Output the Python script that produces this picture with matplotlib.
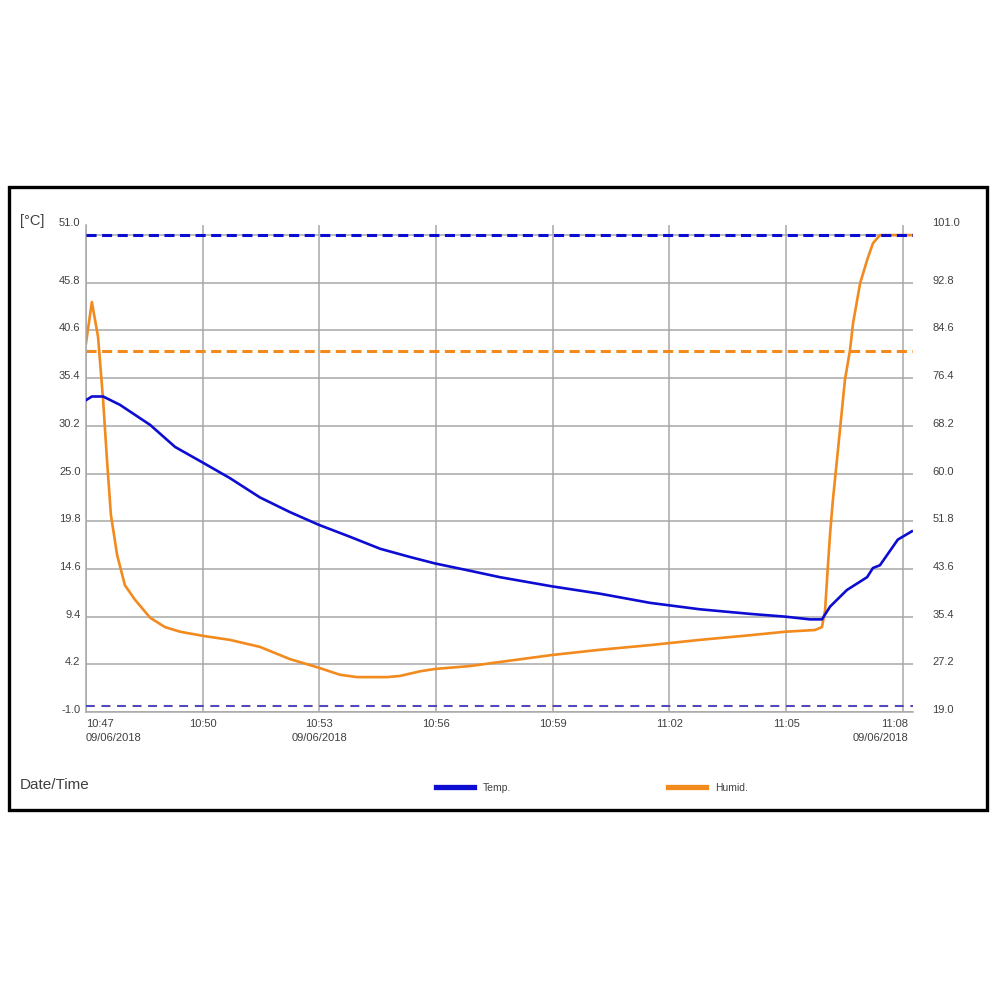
import matplotlib
matplotlib.use("Agg")
import matplotlib.pyplot as plt
from matplotlib.transforms import ScaledTranslation
from matplotlib.patches import Rectangle
from matplotlib.lines import Line2D

# ---- data (minutes after 10:47 on 09/06/2018) ----
temp_minutes = [0, 0.15, 0.44, 0.87, 1.65, 2.29, 3.0, 3.70, 4.47, 5.24, 5.99, 6.79,
                7.56, 8.33, 8.97, 9.87, 10.64, 11.98, 13.21, 14.5, 15.78, 17.07,
                17.97, 18.61, 18.92, 19.13, 19.56, 20.08, 20.23, 20.41, 20.87, 21.23]
temp_values = [33.0, 33.4, 33.4, 32.5, 30.3, 27.9, 26.2, 24.5, 22.4, 20.8, 19.4, 18.1,
               16.8, 15.9, 15.2, 14.4, 13.7, 12.7, 11.9, 10.9, 10.2, 9.7,
               9.4, 9.1, 9.1, 10.5, 12.3, 13.7, 14.7, 15.0, 17.8, 18.7]

humid_minutes = [0, 0.15, 0.31, 0.44, 0.54, 0.64, 0.80, 1.00, 1.26, 1.65, 2.03, 2.42,
                 3.0, 3.70, 4.47, 5.24, 5.99, 6.53, 6.97, 7.74, 8.07, 8.59, 8.97,
                 9.87, 10.64, 11.98, 13.21, 14.5, 15.78, 17.07, 17.97, 18.74, 18.92,
                 19.0, 19.07, 19.13, 19.2, 19.33, 19.51, 19.64, 19.72, 19.9, 20.08,
                 20.23, 20.41, 21.26]
humid_values = [82.4, 89.5, 83.5, 72.6, 62.3, 52.9, 46.0, 40.8, 38.3, 35.2, 33.6, 32.8,
                32.1, 31.4, 30.2, 28.1, 26.6, 25.4, 25.0, 25.0, 25.2, 26.0, 26.4,
                26.9, 27.6, 28.8, 29.7, 30.5, 31.4, 32.2, 32.8, 33.1, 33.6,
                36.5, 43.9, 49.8, 55.4, 64.0, 76.1, 81.2, 85.9, 92.7, 96.7,
                99.6, 101.0, 101.0]

temp_alarm_high = 51.0
temp_alarm_low = -0.3
humid_alarm_high = 81.0
humid_alarm_low = 20.0

temp_ticks = [-1.0, 4.2, 9.4, 14.6, 19.8, 25.0, 30.2, 35.4, 40.6, 45.8, 51.0]
humid_ticks = [19.0, 27.2, 35.4, 43.6, 51.8, 60.0, 68.2, 76.4, 84.6, 92.8, 101.0]
x_ticks = [0, 3, 6, 9, 12, 15, 18, 21]
x_labels = ["10:47\n09/06/2018", "10:50", "10:53\n09/06/2018", "10:56", "10:59",
            "11:02", "11:05", "11:08\n09/06/2018"]

BLUE = "#0c0cd2"
ORANGE = "#f28a1e"
GRID = "#a8a8a8"
TXT = "#404040"
FONT = "Liberation Sans"

plt.rcParams['font.family'] = [FONT, 'DejaVu Sans']

W = H = 1001
fig = plt.figure(figsize=(W / 100, H / 100), dpi=100)
fig.patch.set_facecolor("white")

def fx(px):
    return px / W

def fy(py):
    return 1 - py / H

left, right, top, bottom = 86, 913, 225, 712
ax = fig.add_axes([fx(left), fy(bottom), fx(right) - fx(left), fy(top) - fy(bottom)])
ax2 = ax.twinx()
# temperature axis drawn above humidity axis; grid lives on the humidity axis
ax.set_zorder(ax2.get_zorder() + 1)
ax.patch.set_visible(False)
ax2.patch.set_visible(True)
ax2.patch.set_facecolor("white")

ax.set_xlim(0, 21.26)
ax.set_ylim(-1.0, 52.1)
ax2.set_ylim(19.0, 102.74)

ax.set_yticks(temp_ticks)
ax.set_xticks(x_ticks)
ax2.set_yticks(humid_ticks)
ax2.xaxis.set_visible(True)
ax2.tick_params(axis="x", labelbottom=False, labeltop=False, bottom=False, top=False)
ax2.grid(True, axis="both", color=GRID, linewidth=1.1)
ax2.set_axisbelow(True)
for s in ["top", "right"]:
    ax.spines[s].set_visible(False)
for s in ["left", "bottom"]:
    ax.spines[s].set_color(GRID)
    ax.spines[s].set_linewidth(1.1)
for s in ax2.spines.values():
    s.set_visible(False)

ax.tick_params(axis="both", length=0, labelsize=8, labelcolor=TXT)
ax.tick_params(axis="y", pad=4)
ax.tick_params(axis="x", pad=5)
ax.set_yticklabels([f"{v:.1f}" for v in temp_ticks])
ax.set_xticklabels(x_labels, linespacing=1.55)
ax2.set_yticklabels([f"{v:.1f}" for v in humid_ticks])
ax2.tick_params(axis="y", length=0, labelsize=8, labelcolor=TXT, pad=14)

# shift y tick labels slightly upward
for axis_obj in (ax, ax2):
    labels = axis_obj.get_yticklabels()
    for i, lab in enumerate(labels):
        dy = 13 if i == len(labels) - 1 else 3
        lab.set_transform(lab.get_transform() + ScaledTranslation(0, dy / 100, fig.dpi_scale_trans))

xl = ax.get_xticklabels()
xl[0].set_horizontalalignment("left")
xl[-1].set_horizontalalignment("right")
xl[-1].set_transform(xl[-1].get_transform() + ScaledTranslation(5 / 100, 0, fig.dpi_scale_trans))

# alarm lines
ax.axhline(temp_alarm_high, color=BLUE, linewidth=2.2, dashes=(3.3, 1.8), zorder=3)
ax2.axhline(humid_alarm_high, color=ORANGE, linewidth=2.2, dashes=(3.3, 1.8), zorder=3)
ax2.axhline(humid_alarm_low, color=ORANGE, linewidth=1.6, alpha=0.6, dashes=(4, 3), zorder=2)
ax.axhline(temp_alarm_low, color="#4848c8", linewidth=1.4, dashes=(4.5, 3.5), zorder=3)

# series
ax2.plot(humid_minutes, humid_values, color=ORANGE, linewidth=1.9, zorder=4)
ax.plot(temp_minutes, temp_values, color=BLUE, linewidth=1.9, zorder=4)

# texts
fig.text(fx(20), fy(221), "[°C]", fontsize=10.5, color=TXT, va="center", ha="left")
fig.text(fx(20), fy(785), "Date/Time", fontsize=11, color=TXT, va="center", ha="left")

# legends
h1 = Line2D([], [], color=BLUE, linewidth=3.8)
h2 = Line2D([], [], color=ORANGE, linewidth=3.8)
fig.legend([h1], ["Temp."], loc="center left", bbox_to_anchor=(fx(436), fy(788)),
           frameon=False, fontsize=7.5, handlelength=3.6, handletextpad=0.9,
           borderpad=0, borderaxespad=0, labelcolor=TXT)
fig.legend([h2], ["Humid."], loc="center left", bbox_to_anchor=(fx(668), fy(788)),
           frameon=False, fontsize=7.5, handlelength=3.6, handletextpad=0.9,
           borderpad=0, borderaxespad=0, labelcolor=TXT)

# outer frame
fig.patches.append(Rectangle((fx(9), fy(810)), fx(987) - fx(9), fy(187) - fy(810),
                             transform=fig.transFigure, fill=False, edgecolor="black",
                             linewidth=2.4))

fig.savefig("out.png", dpi=100, facecolor="white")
